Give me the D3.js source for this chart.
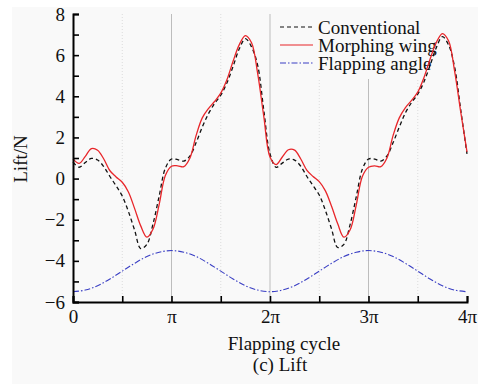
<!DOCTYPE html>
<html>
<head>
<meta charset="utf-8">
<script src="https://cdn.jsdelivr.net/npm/d3@7"></script>
<style>
  body { margin: 0; background: #fff; }
  text { font-family: "Liberation Serif", "Times New Roman", serif; fill: #111; }
</style>
</head>
<body>
<script>
// x positions in multiples of pi (step pi/16)
var phase = d3.range(65).map(function(i) { return i / 16; });

// conventional wing lift (N)
var conventional = [
  0.8, 0.55, 0.78, 0.98, 0.9, 0.58, 0.1, -0.35, -0.85, -1.6, -2.5, -3.4, -3.2, -2.2, -0.85, 0.5,
  0.95, 0.92, 0.85, 1.1, 1.75, 2.5, 3.15, 3.65, 4.05, 4.65, 5.45, 6.3, 6.8, 6.4, 5.5, 3.3,
  1.2, 0.55, 0.75, 0.95, 0.9, 0.6, 0.1, -0.35, -0.8, -1.55, -2.45, -3.35, -3.2, -2.25, -0.9, 0.45,
  0.95, 0.95, 0.85, 1.1, 1.75, 2.5, 3.2, 3.7, 4.1, 4.7, 5.5, 6.35, 6.9, 6.5, 5.4, 3.3,
  1.2
];
// morphing wing lift (N)
var morphing = [
  0.96, 0.74, 1.08, 1.46, 1.38, 0.95, 0.38, 0.08, -0.18, -0.65, -1.45, -2.3, -2.85, -2.45, -1.25, 0.15,
  0.6, 0.62, 0.58, 1.0, 2.1, 2.95, 3.4, 3.75, 4.15, 4.8, 5.7, 6.5, 6.95, 6.6, 5.1, 3.0,
  1.05, 0.68, 1.05, 1.4, 1.38, 0.95, 0.4, 0.1, -0.15, -0.6, -1.35, -2.2, -2.85, -2.5, -1.3, 0.1,
  0.55, 0.62, 0.58, 1.0, 2.1, 2.95, 3.45, 3.8, 4.2, 4.9, 5.8, 6.6, 7.05, 6.7, 5.2, 3.2,
  1.3
];
// flapping angle curve (plotted on the lift scale), step pi/8
var anglePhase = d3.range(33).map(function(i) { return i / 8; });
var angle = [
  -5.5, -5.42, -5.21, -4.88, -4.5, -4.12, -3.79, -3.58, -3.5, -3.58, -3.79, -4.12, -4.5, -4.88, -5.21, -5.42,
  -5.5, -5.42, -5.21, -4.88, -4.5, -4.12, -3.79, -3.58, -3.5, -3.58, -3.79, -4.12, -4.5, -4.88, -5.21, -5.42,
  -5.5
];

var xTicks = [0, 1, 2, 3, 4];
var xTickLabels = ["0", "\u03c0", "2\u03c0", "3\u03c0", "4\u03c0"];
var yTicks = [-6, -4, -2, 0, 2, 4, 6, 8];

var legendNames = ["Conventional", "Morphing wing", "Flapping angle"];
var legendColors = ["#111", "#e8262a", "#3a3fc4"];
var legendDash = ["4,3", null, "6,2,1.5,2"];

var W = 491, H = 384;
var x = d3.scaleLinear().domain([0, 4]).range([73, 467]);
var y = d3.scaleLinear().domain([-6, 8]).range([302, 14]);

var svg = d3.select("body").append("svg")
  .attr("width", W).attr("height", H);

// panel background
svg.append("rect").attr("x", 12).attr("y", 7).attr("width", 466).attr("height", 377)
  .attr("fill", "#f9f9f9");

// grid lines
svg.selectAll(".grid-major").data([1, 2, 3]).enter().append("line")
  .attr("x1", function(d) { return x(d); }).attr("x2", function(d) { return x(d); })
  .attr("y1", y(8)).attr("y2", y(-6))
  .attr("stroke", "#bdbdbd").attr("stroke-width", 1);
svg.selectAll(".grid-minor").data([0.5, 1.5, 2.5, 3.5]).enter().append("line")
  .attr("x1", function(d) { return x(d); }).attr("x2", function(d) { return x(d); })
  .attr("y1", y(8)).attr("y2", y(-6))
  .attr("stroke", "#dcdcdc").attr("stroke-width", 1).attr("stroke-dasharray", "1,2");

// legend box hides grid behind it
svg.append("rect").attr("x", 272).attr("y", 12).attr("width", 196).attr("height", 67)
  .attr("fill", "#f9f9f9");

var legend = svg.append("g");
legendNames.forEach(function(name, i) {
  var ly = 27 + i * 18;
  legend.append("line").attr("x1", 280).attr("x2", 313).attr("y1", ly).attr("y2", ly)
    .attr("stroke", legendColors[i]).attr("stroke-width", 1.2)
    .attr("stroke-dasharray", legendDash[i]);
  legend.append("text").attr("x", 318).attr("y", ly + 6.5)
    .attr("font-size", 19).text(name);
});

// curves
var line = d3.line().curve(d3.curveCatmullRom.alpha(0.5))
  .x(function(d) { return x(d[0]); }).y(function(d) { return y(d[1]); });

svg.append("path").datum(d3.zip(anglePhase, angle))
  .attr("d", line).attr("fill", "none")
  .attr("stroke", legendColors[2]).attr("stroke-width", 1.1).attr("stroke-dasharray", legendDash[2]);
svg.append("path").datum(d3.zip(phase, conventional))
  .attr("d", line).attr("fill", "none")
  .attr("stroke", legendColors[0]).attr("stroke-width", 1.3).attr("stroke-dasharray", legendDash[0]);
svg.append("path").datum(d3.zip(phase, morphing))
  .attr("d", line).attr("fill", "none")
  .attr("stroke", legendColors[1]).attr("stroke-width", 1.3);

// axes (ticks pointing inward)
var yAxis = d3.axisLeft(y).tickValues(d3.range(-6, 9, 1)).tickSize(-6)
  .tickFormat(function(d) { return yTicks.indexOf(d) >= 0 ? (d < 0 ? "\u2212" + (-d) : d) : ""; });
var gy = svg.append("g").attr("transform", "translate(73,0)").call(yAxis);
gy.select(".domain").attr("stroke", "#000").attr("stroke-width", 2);
gy.selectAll(".tick line").attr("stroke", "#000").attr("stroke-width", 1.6);
gy.selectAll(".tick text").attr("x", -8).attr("font-size", 19)
  .attr("font-family", "Liberation Serif").attr("fill", "#111");

var xAxis = d3.axisBottom(x).tickValues(d3.range(0, 4.01, 0.5)).tickSize(-6)
  .tickFormat(function(d) { var k = xTicks.indexOf(d); return k >= 0 ? xTickLabels[k] : ""; });
var gx = svg.append("g").attr("transform", "translate(0,302)").call(xAxis);
gx.select(".domain").attr("stroke", "#000").attr("stroke-width", 2);
gx.selectAll(".tick line").attr("stroke", "#000").attr("stroke-width", 1.6);
gx.selectAll(".tick text").attr("y", 8).attr("font-size", 19)
  .attr("font-family", "Liberation Serif").attr("fill", "#111");

// titles
svg.append("text").attr("x", 284).attr("y", 350).attr("text-anchor", "middle")
  .attr("font-size", 19).text("Flapping cycle");
svg.append("text").attr("x", 280).attr("y", 371).attr("text-anchor", "middle")
  .attr("font-size", 19).text("(c) Lift");
svg.append("text").attr("transform", "translate(27,159) rotate(-90)")
  .attr("text-anchor", "middle").attr("font-size", 19).text("Lift/N");
</script>
</body>
</html>
